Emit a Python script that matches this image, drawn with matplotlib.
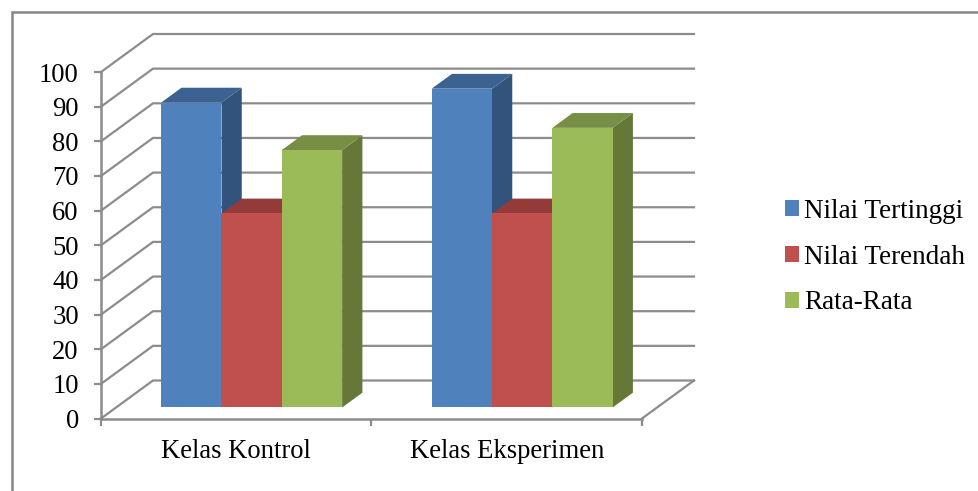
import matplotlib
matplotlib.use("Agg")
import matplotlib.pyplot as plt
from matplotlib.lines import Line2D
from matplotlib.patches import Patch

plt.rcParams['font.family'] = ['Liberation Serif', 'DejaVu Serif']

# Chart data
categories = ["Kelas Kontrol", "Kelas Eksperimen"]
series_names = ["Nilai Tertinggi", "Nilai Terendah", "Rata-Rata"]
nilai_tertinggi = [88, 92]
nilai_terendah = [56, 56]
rata_rata = [74.3, 80.7]
value_ticks = list(range(0, 101, 10))

# Face colours per series: front, top, side
front_colors = ["#4F81BD", "#C0504D", "#9BBB59"]
top_colors = ["#3C6292", "#943A38", "#778E45"]
side_colors = ["#32537C", "#7F302E", "#657838"]

GRID = "#8C8C8C"
W, H = 979, 491
FONT = 19.2
LEGEND_FONT = 19.5

fig = plt.figure(figsize=(W / 100, H / 100), dpi=100, facecolor="white")

# Axes rectangle is the front plane of the oblique 3-D box
left, right, bottom, top = 101, 642, 418.5, 72
ax = fig.add_axes([left / W, 1 - bottom / H, (right - left) / W, (bottom - top) / H])
ax.set_xlim(0, 2)
ax.set_ylim(0, 100)
ax.patch.set_visible(False)

# Oblique depth vector, in data units
px_x = (right - left) / 2
px_y = (bottom - top) / 100
DEPTH_X = 52 / px_x
DEPTH_Y = 38 / px_y


def project(x, v, d):
    """Map a category position, value and depth fraction to the drawing plane."""
    return x + d * DEPTH_X, v + d * DEPTH_Y


# Wall and floor grid
for v in value_ticks:
    xs, ys = zip(project(0, v, 0), project(0, v, 1), project(2, v, 1))
    ax.plot(xs, ys, color=GRID, lw=1.6, zorder=1, clip_on=False, solid_joinstyle="miter")
xs, ys = zip(project(2, 0, 1), project(2, 0, 0))
ax.plot(xs, ys, color=GRID, lw=1.6, zorder=1, clip_on=False)

# Bars: drawn left to right so that later fronts hide earlier sides
BAR_W = 0.223
D_FRONT, D_BACK = 0.29, 0.68
all_series = [nilai_tertinggi, nilai_terendah, rata_rata]
z = 3
for c in range(len(categories)):
    for s, values in enumerate(all_series):
        v = values[c]
        x0 = c + 1 / 6 + s * BAR_W
        x1 = x0 + BAR_W
        fx0, fy0 = project(x0, 0, D_FRONT)
        fx1, _ = project(x1, 0, D_FRONT)
        ftop = project(x0, v, D_FRONT)[1]
        corners_side = [project(x1, 0, D_FRONT), project(x1, 0, D_BACK),
                        project(x1, v, D_BACK), project(x1, v, D_FRONT)]
        corners_top = [project(x0, v, D_FRONT), project(x1, v, D_FRONT),
                       project(x1, v, D_BACK), project(x0, v, D_BACK)]
        ax.fill(*zip(*corners_side), color=side_colors[s], lw=0, zorder=z, clip_on=False)
        ax.fill(*zip(*corners_top), color=top_colors[s], lw=0, zorder=z, clip_on=False)
        ax.bar(fx0, ftop - fy0, width=fx1 - fx0, bottom=fy0, align="edge",
               color=front_colors[s], lw=0, zorder=z + 0.5, clip_on=False)
        z += 1

# Axes lines and ticks
for name in ("top", "right"):
    ax.spines[name].set_visible(False)
for name in ("left", "bottom"):
    ax.spines[name].set_color(GRID)
    ax.spines[name].set_linewidth(1.8)
    ax.spines[name].set_zorder(2)
ax.set_yticks(value_ticks)
ax.set_xticks([0, 1, 2])
ax.set_xticklabels([])
ax.tick_params(axis="both", which="major", color=GRID, width=1.6, length=5,
               labelsize=FONT, labelcolor="black")
ax.tick_params(axis="y", pad=11)
ax.set_xticks([0.5, 1.5], minor=True)
ax.set_xticklabels(categories, minor=True)
ax.tick_params(axis="x", which="minor", length=0, labelsize=FONT, pad=15)

# Legend
handles = [Patch(facecolor=col, edgecolor="none") for col in front_colors]
fig.legend(handles, series_names, loc="center left", bbox_to_anchor=(785 / W, 1 - 257 / H),
           frameon=False, fontsize=LEGEND_FONT, handlelength=0.52, handleheight=0.52,
           handletextpad=0.19, labelspacing=0.77, borderpad=0, borderaxespad=0)

# Outer chart frame, running off the right and bottom edges
fig.add_artist(Line2D([11.5 / W, 11.5 / W, 1], [0, 1 - 12 / H, 1 - 12 / H],
                      transform=fig.transFigure, color="#868686", lw=1.8,
                      solid_joinstyle="miter"))

fig.savefig("out.png", dpi=100, facecolor="white")
